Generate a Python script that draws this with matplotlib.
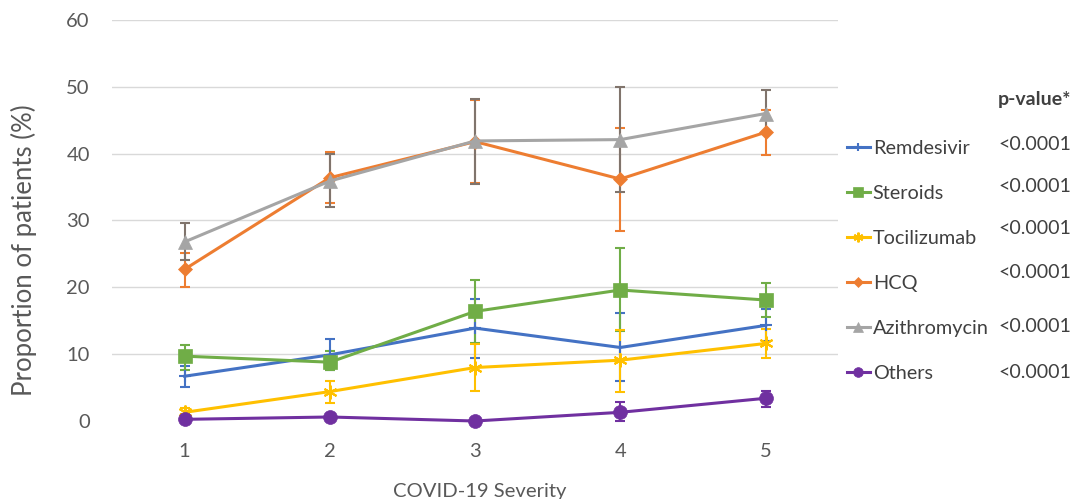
import matplotlib
matplotlib.use('Agg')
import matplotlib.pyplot as plt

plt.rcParams['font.family'] = ['Lato', 'DejaVu Sans']

severity = [1, 2, 3, 4, 5]
drugs = ['Remdesivir', 'Steroids', 'Tocilizumab', 'HCQ', 'Azithromycin', 'Others']

remdesivir = [6.7, 9.9, 13.9, 11.0, 14.3]
remdesivir_lo = [5.1, 7.7, 9.5, 6.0, 12.0]
remdesivir_hi = [8.2, 12.2, 18.3, 16.1, 16.7]

steroids = [9.7, 8.8, 16.4, 19.6, 18.1]
steroids_lo = [7.7, 7.6, 11.6, 13.5, 15.5]
steroids_hi = [11.4, 10.5, 21.1, 25.9, 20.7]

tocilizumab = [1.3, 4.4, 8.0, 9.1, 11.6]
tocilizumab_lo = [1.0, 2.7, 4.5, 4.4, 9.4]
tocilizumab_hi = [1.9, 6.0, 11.5, 13.6, 13.7]

hcq = [22.7, 36.4, 41.8, 36.2, 43.2]
hcq_lo = [20.0, 32.6, 35.6, 28.4, 39.8]
hcq_hi = [25.2, 40.3, 48.0, 43.8, 46.6]

azithromycin = [26.8, 35.9, 41.9, 42.1, 46.0]
azithromycin_lo = [24.1, 32.0, 35.5, 34.2, 43.0]
azithromycin_hi = [29.6, 40.0, 48.2, 50.0, 49.5]

others = [0.25, 0.6, 0.0, 1.3, 3.4]
others_lo = [0.1, 0.4, 0.0, 0.0, 2.1]
others_hi = [0.5, 0.9, 0.0, 2.9, 4.5]

p_values = ['<0.0001', '<0.0001', '<0.0001', '<0.0001', '<0.0001', '<0.0001']

series = [
    (remdesivir, remdesivir_lo, remdesivir_hi, '#4472C4', '#4472C4', '+', 9),
    (steroids, steroids_lo, steroids_hi, '#70AD47', '#70AD47', 's', 10),
    (tocilizumab, tocilizumab_lo, tocilizumab_hi, '#FFC000', '#FFC000', (6, 2, 0), 10),
    (hcq, hcq_lo, hcq_hi, '#ED7D31', '#ED7D31', 'D', 7),
    (azithromycin, azithromycin_lo, azithromycin_hi, '#A5A5A5', '#80746c', '^', 10),
    (others, others_lo, others_hi, '#7030A0', '#7030A0', 'o', 10),
]

fig = plt.figure(figsize=(10.71, 4.99), dpi=100)
ax = fig.add_axes([0.1046, 0.1563, 0.678, 0.8037])

handles = []
for (vals, lo, hi, color, ecolor, marker, ms), name in zip(series, drugs):
    yerr = [[v - l for v, l in zip(vals, lo)], [h - v for v, h in zip(vals, hi)]]
    ax.errorbar(severity, vals, yerr=yerr, fmt='none', ecolor=ecolor,
                elinewidth=1.5, capsize=3.5, capthick=1.5, clip_on=False, zorder=2)
    line, = ax.plot(severity, vals, color=color, lw=2.2, marker=marker,
                    markersize=ms, markeredgewidth=1.5 if marker in ('+', (6, 2, 0)) else 0.5,
                    markeredgecolor=color, label=name, clip_on=False, zorder=3)
    handles.append(line)

ax.set_xlim(0.5, 5.5)
ax.set_ylim(0, 60)
ax.set_yticks(range(0, 61, 10))
ax.set_xticks(severity)
ax.grid(axis='y', color='#d9d9d9', lw=1)
ax.set_axisbelow(True)
for s in ax.spines.values():
    s.set_visible(False)
ax.tick_params(length=0, labelsize=14.5, labelcolor='#595959', pad=16)
# no gridline at zero in the original
ax.get_ygridlines()[0].set_visible(False)

ax.set_ylabel('Proportion of patients (%)', fontsize=18.5, color='#595959')
ax.yaxis.set_label_coords(-0.103, 0.426)
ax.set_xlabel('COVID-19 Severity', fontsize=14.6, color='#595959')
ax.xaxis.set_label_coords(0.506, -0.155)

fig.legend(handles=handles, loc='upper left', bbox_to_anchor=(0.7908, 0.7194),
           bbox_transform=fig.transFigure, frameon=False, fontsize=14.3,
           labelcolor='#404040', handlelength=1.15, handletextpad=0.15,
           labelspacing=1.41, borderpad=0, borderaxespad=0, markerscale=0.7)

fig.text(0.932, 1 - 99 / 499, 'p-value*', fontsize=14, fontweight='bold',
         color='#404040', va='center', ha='left')
p_rows = [145, 187, 229, 273, 327, 372]
for p, yr in zip(p_values, p_rows):
    fig.text(0.932, 1 - yr / 499, p, fontsize=14.1, color='#404040', va='center', ha='left')

fig.savefig('out.png', dpi=100)
